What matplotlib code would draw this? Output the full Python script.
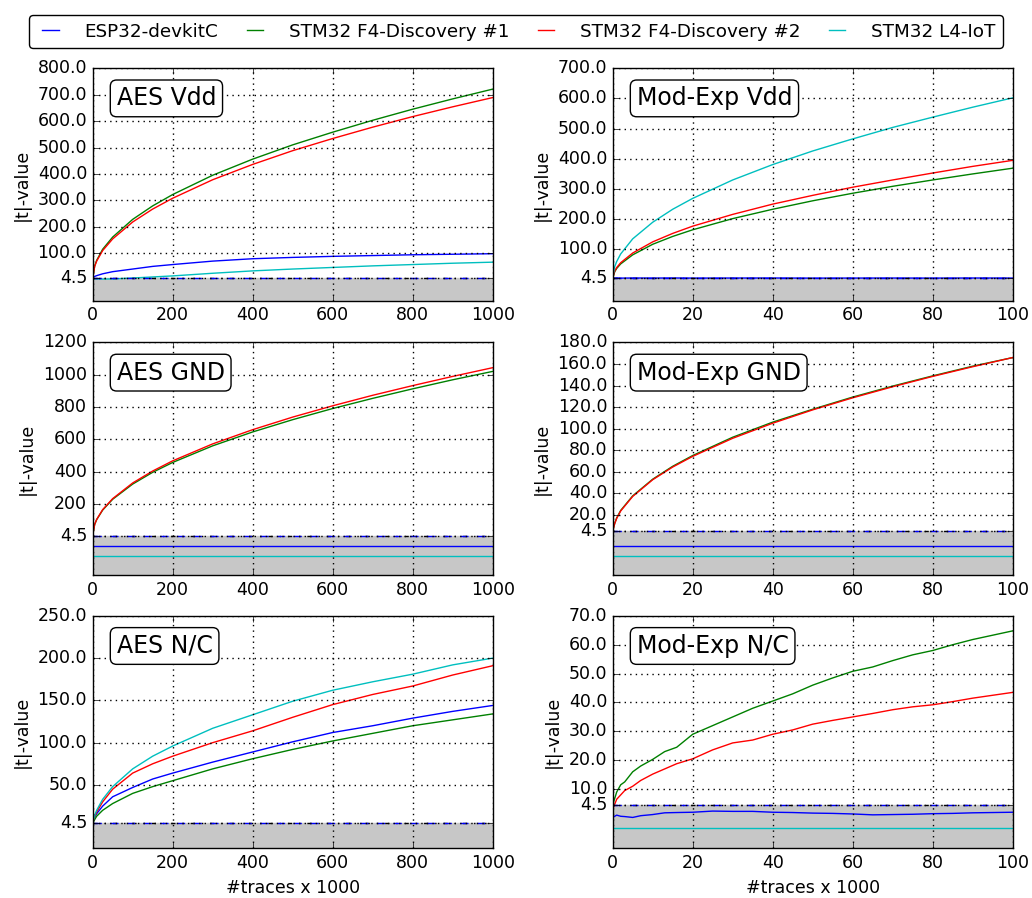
import numpy as np
import matplotlib
matplotlib.use("Agg")
import matplotlib.pyplot as plt

plt.style.use("classic")
plt.rcParams["font.family"] = ["DejaVu Sans"]
plt.rcParams["font.size"] = 12.5
plt.rcParams["figure.facecolor"] = "white"

devices = ["ESP32-devkitC", "STM32 F4-Discovery #1", "STM32 F4-Discovery #2", "STM32 L4-IoT"]
colors = ["b", "g", "r", "c"]

# x values, in thousands of traces
x_aes = [0, 5, 10, 25, 50, 100, 150, 200, 300, 400, 500, 600, 700, 800, 900, 1000]
x_mod = [0, 0.5, 1, 2, 5, 10, 15, 20, 30, 40, 50, 60, 70, 80, 90, 100]
x_mod_nc = [0, 1, 2, 3, 5, 7, 10, 13, 16, 20, 25, 30, 35, 40, 45, 50, 55, 60, 65, 70, 75, 80, 85, 90, 95, 100]

# AES Vdd
aes_vdd_esp = [8, 12, 15, 22, 30, 40, 50, 57, 70, 79, 84, 88, 91, 94, 96, 98]
aes_vdd_f4a = [4.5, 52, 73, 115, 161, 228, 279, 322, 395, 456, 510, 558, 603, 645, 684, 721]
aes_vdd_f4b = [4.5, 50, 70, 110, 154, 218, 267, 308, 378, 436, 488, 534, 577, 617, 654, 689]
aes_vdd_l4 = [4.5, 3, 2.5, 2, 2.5, 6, 10, 14, 24, 33, 40, 46, 52, 57, 62, 66]

# Mod-Exp Vdd
mod_vdd_esp = [5.5, 5.0, 5.6, 4.9, 5.3, 5.1, 5.4, 5.0, 5.2, 5.3, 4.9, 5.1, 5.2, 5.0, 5.3, 5.1]
mod_vdd_f4a = [4.5, 26, 37, 52, 82, 117, 143, 165, 202, 233, 261, 286, 309, 330, 350, 369]
mod_vdd_f4b = [4.5, 28, 40, 56, 88, 125, 153, 177, 216, 250, 279, 306, 330, 353, 375, 395]
mod_vdd_l4 = [4.5, 43, 60, 85, 135, 190, 233, 269, 330, 381, 426, 466, 504, 538, 571, 602]

# AES GND (ESP32 and L4 not measured -> placeholder levels)
aes_gnd_esp = [-60] * 16
aes_gnd_f4a = [4.5, 73, 103, 162, 229, 323, 396, 457, 560, 646, 722, 791, 854, 913, 969, 1021]
aes_gnd_f4b = [4.5, 74, 104, 165, 233, 330, 404, 467, 572, 660, 738, 808, 873, 933, 990, 1044]
aes_gnd_l4 = [-120] * 16

# Mod-Exp GND
mod_gnd_esp = [-9] * 16
mod_gnd_f4a = [4.5, 12, 17, 24, 37.5, 53, 65, 75, 92, 106, 118, 129.3, 139.5, 149, 158, 166]
mod_gnd_f4b = [4.5, 11.7, 16.6, 23.5, 37, 52.5, 64.3, 74.2, 91, 105, 117.4, 128.6, 138.9, 148.5, 157.5, 166]
mod_gnd_l4 = [-18] * 16

# AES N/C
aes_nc_esp = [4.5, 12, 16, 25, 36, 47, 57, 64, 77, 89, 101, 112, 120, 129, 137, 144]
aes_nc_f4a = [4.5, 9, 13, 20, 28, 40, 48, 55, 69, 81, 92, 102, 111, 120, 127, 134]
aes_nc_f4b = [4.5, 13, 18, 30, 45, 64, 75, 84, 100, 114, 130, 145, 157, 167, 180, 191]
aes_nc_l4 = [4.5, 14, 20, 33, 48, 69, 84, 96, 117, 133, 149, 162, 172, 181, 192, 200]

# Mod-Exp N/C
mod_nc_esp = [0.2, 1.0, 0.6, 0.5, 0.2, 0.8, 1.2, 1.8, 1.9, 2.0, 2.4, 2.3, 2.3, 2.0, 1.9,
              1.7, 1.6, 1.4, 1.1, 1.2, 1.3, 1.5, 1.6, 1.8, 1.9, 2.0]
mod_nc_f4a = [4.5, 9, 11.5, 12.5, 16, 18, 20.3, 23, 24.5, 29, 32, 35, 38, 40.5, 43, 46,
              48.5, 50.8, 52.3, 54.5, 56.5, 58, 60, 61.8, 63.3, 64.8]
mod_nc_f4b = [3, 6.5, 8, 9.5, 11, 13, 15.2, 17, 18.8, 20.5, 23.6, 26, 27, 29, 30.5, 32.5,
              33.8, 35, 36.2, 37.5, 38.5, 39.2, 40.3, 41.5, 42.5, 43.5]
mod_nc_l4 = [-3.5] * 26

panels = [
    ("AES Vdd", x_aes, [aes_vdd_esp, aes_vdd_f4a, aes_vdd_f4b, aes_vdd_l4], 800, 100, -80, "%.1f"),
    ("Mod-Exp Vdd", x_mod, [mod_vdd_esp, mod_vdd_f4a, mod_vdd_f4b, mod_vdd_l4], 700, 100, -70, "%.1f"),
    ("AES GND", x_aes, [aes_gnd_esp, aes_gnd_f4a, aes_gnd_f4b, aes_gnd_l4], 1200, 200, -240, "%d"),
    ("Mod-Exp GND", x_mod, [mod_gnd_esp, mod_gnd_f4a, mod_gnd_f4b, mod_gnd_l4], 180, 20, -36, "%.1f"),
    ("AES N/C", x_aes, [aes_nc_esp, aes_nc_f4a, aes_nc_f4b, aes_nc_l4], 250, 50, -25, "%.1f"),
    ("Mod-Exp N/C", x_mod_nc, [mod_nc_esp, mod_nc_f4a, mod_nc_f4b, mod_nc_l4], 70, 10, -10.5, "%.1f"),
]

fig = plt.figure(figsize=(10.32, 8.98), dpi=100)
lefts = [0.0898, 0.5937]
bottoms = [0.6651, 0.3597, 0.0553]
w, h = 0.3876, 0.2589

handles = []
for i, (title, xs, series, ymax, ystep, ymin, fmt) in enumerate(panels):
    row, col = divmod(i, 2)
    ax = fig.add_axes([lefts[col], bottoms[row], w, h])
    xmax = xs[-1]
    ax.axhspan(ymin, 4.5, color="0.78", zorder=0)
    for ys, c in zip(series, colors):
        l, = ax.plot(xs, ys, color=c, lw=1.0)
        if i == 0:
            handles.append(l)
    ax.axhline(4.5, color="k", ls="-.", lw=1.0)
    ax.axhline(4.5, color="b", ls="--", lw=1.0)
    ax.set_xlim(0, xmax)
    ax.set_ylim(ymin, ymax)
    ticks = [4.5] + list(np.arange(ystep, ymax + ystep / 2, ystep))
    ax.set_yticks(ticks)
    ax.set_yticklabels(["4.5"] + [fmt % t for t in ticks[1:]])
    ax.set_xticks(np.linspace(0, xmax, 6))
    ax.set_xticklabels(["%d" % t for t in np.linspace(0, xmax, 6)])
    ax.grid(True, color="k", ls=":", lw=1.0)
    ax.set_ylabel("|t|-value")
    if row == 2:
        ax.set_xlabel("#traces x 1000")
    ax.text(0.06, 0.922, title, transform=ax.transAxes, fontsize=17, va="top", ha="left",
            bbox=dict(boxstyle="round,pad=0.27", fc="white", ec="k"), zorder=5)

fig.legend(handles, devices, loc="upper center", ncol=4, bbox_to_anchor=(0.5, 0.993),
           fontsize=13.2, fancybox=True, handlelength=1.5, handletextpad=1.1,
           columnspacing=1.25, borderpad=0.4)

fig.savefig("out.png", dpi=100, facecolor="white")
